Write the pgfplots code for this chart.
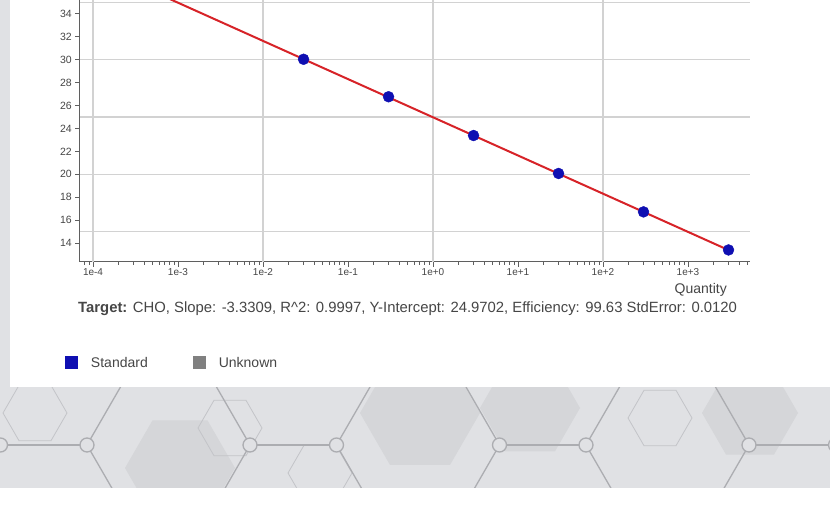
\documentclass[border=0pt]{standalone}
\usepackage{fontspec}
\setmainfont{Liberation Sans}
\usepackage{pgfplots}
\pgfplotsset{compat=1.18}

\definecolor{bggray}{RGB}{224,225,228}
\definecolor{hexdark}{RGB}{213,214,217}
\definecolor{hexline}{RGB}{172,173,177}
\definecolor{hexthin}{RGB}{195,196,200}
\definecolor{gridgray}{RGB}{210,210,210}
\definecolor{axisgray}{RGB}{95,95,95}
\definecolor{txtgray}{RGB}{70,70,70}
\definecolor{fitred}{RGB}{215,35,40}
\definecolor{ptblue}{RGB}{15,15,178}
\definecolor{unkgray}{RGB}{128,128,128}

% hexagon with left/right vertices: centre x, centre y, half width
\newcommand{\hexpath}[3]{({#1-#3},#2) -- ({#1-#3/2},{#2+0.866*#3}) -- ({#1+#3/2},{#2+0.866*#3}) -- ({#1+#3},#2) -- ({#1+#3/2},{#2-0.866*#3}) -- ({#1-#3/2},{#2-0.866*#3}) -- cycle}

\begin{document}
\begin{tikzpicture}[x=1bp, y=1bp]
\useasboundingbox (0,0) rectangle (830,508);

% background
\fill[bggray] (0,0) rectangle (830,508);
\begin{scope}
  \clip (0,20) rectangle (830,121);
  \fill[hexdark] \hexpath{180}{40}{55};
  \fill[hexdark] \hexpath{420}{95}{60};
  \fill[hexdark] \hexpath{530}{100}{50};
  \fill[hexdark] \hexpath{750}{95}{48};
  \draw[hexthin, line width=0.8bp] \hexpath{35}{95}{32};
  \draw[hexthin, line width=0.8bp] \hexpath{230}{80}{32};
  \draw[hexthin, line width=0.8bp] \hexpath{320}{35}{32};
  \draw[hexthin, line width=0.8bp] \hexpath{660}{90}{32};
  \foreach \cx in {-81,168.5,418,667.5,917}{
    \draw[hexline, line width=1.3bp] \hexpath{\cx}{63}{81.5};
  }
  \foreach \xa/\xb in {0.5/87,250/336.5,499.5/586,749/835.5}{
    \draw[hexline, line width=1.5bp] (\xa,63) -- (\xb,63);
    \draw[hexline, line width=1.3bp, fill=bggray] (\xa,63) circle (7);
    \draw[hexline, line width=1.3bp, fill=bggray] (\xb,63) circle (7);
  }
\end{scope}
\fill[white] (0,0) rectangle (830,20);
\fill[white] (10,121) rectangle (830,508);

\begin{axis}[
    at={(80bp,246bp)}, anchor=south west,
    width=670bp, height=262bp, scale only axis,
    xmode=log, log basis x=10,
    xmin=7.03e-5, xmax=5370,
    ymin=12.35, ymax=35.2,
    axis lines=left,
    axis line style={-, draw=axisgray, line width=1bp},
    tick align=outside,
    major tick length=5bp, minor tick length=3bp,
    tick style={draw=axisgray, line width=0.8bp},
    xtick={1e-4,1e-3,1e-2,1e-1,1,10,100,1000},
    xticklabels={1e-4,1e-3,1e-2,1e-1,1e+0,1e+1,1e+2,1e+3},
    minor xtick={8e-5,9e-5,
      2e-4,3e-4,4e-4,5e-4,6e-4,7e-4,8e-4,9e-4,
      2e-3,3e-3,4e-3,5e-3,6e-3,7e-3,8e-3,9e-3,
      2e-2,3e-2,4e-2,5e-2,6e-2,7e-2,8e-2,9e-2,
      0.2,0.3,0.4,0.5,0.6,0.7,0.8,0.9,
      2,3,4,5,6,7,8,9,
      20,30,40,50,60,70,80,90,
      200,300,400,500,600,700,800,900,
      2000,3000,4000,5000},
    ytick={14,16,18,20,22,24,26,28,30,32,34},
    extra x ticks={1e-4,1e-2,1,100},
    extra x tick labels={},
    extra y ticks={15,20,25,30,35},
    extra y tick labels={},
    extra tick style={grid=major, major tick length=0pt},
    grid style={draw=gridgray, line width=1.2bp},
    /pgf/number format/assume math mode=true,
    ticklabel style={text=txtgray},
    xticklabel style={inner sep=1.5bp, font=\fontsize{10bp}{12bp}\selectfont},
    yticklabel style={inner sep=3bp, font=\fontsize{10.5bp}{12bp}\selectfont},
    xlabel={Quantity},
    xlabel style={at={(axis description cs:0.9657,-0.1221)}, anchor=base east,
      inner sep=0pt, text=txtgray, font=\fontsize{14bp}{16bp}\selectfont},
    legend columns=2,
    legend cell align=left,
    legend style={at={(axis description cs:-0.0224,-0.3855)}, anchor=west,
      draw=none, fill=none, inner sep=0pt, outer sep=0pt,
      nodes={inner sep=0pt, text=txtgray},
      font=\fontsize{14bp}{16bp}\selectfont,
      /tikz/every odd column/.append style={column sep=13bp},
      /tikz/every even column/.append style={column sep=45bp}},
    legend image code/.code={\path[#1, draw=none] (0bp,-6.5bp) rectangle (13bp,6.5bp);},
]
% fitted standard curve
\addplot[fitred, line width=2bp, forget plot] coordinates {
    (1e-4, 38.2938) (3000, 13.388)
};
% standards
\addplot[only marks, mark=*, mark size=5.5, color=ptblue, forget plot] coordinates {
    (0.03, 30.03) (0.3, 26.76) (3, 23.38) (30, 20.07) (300, 16.72) (3000, 13.40)
};
\addlegendimage{fill=ptblue}
\addlegendentry{Standard}
\addlegendimage{fill=unkgray}
\addlegendentry{Unknown}
\end{axis}

\node[anchor=base west, inner sep=0pt, text=txtgray, font=\fontsize{14.85bp}{18bp}\selectfont]
  at (78,195) {\textbf{Target:} CHO, Slope: -3.3309, R\textasciicircum 2: 0.9997, Y-Intercept: 24.9702, Efficiency: 99.63 StdError: 0.0120};
\end{tikzpicture}
\end{document}
